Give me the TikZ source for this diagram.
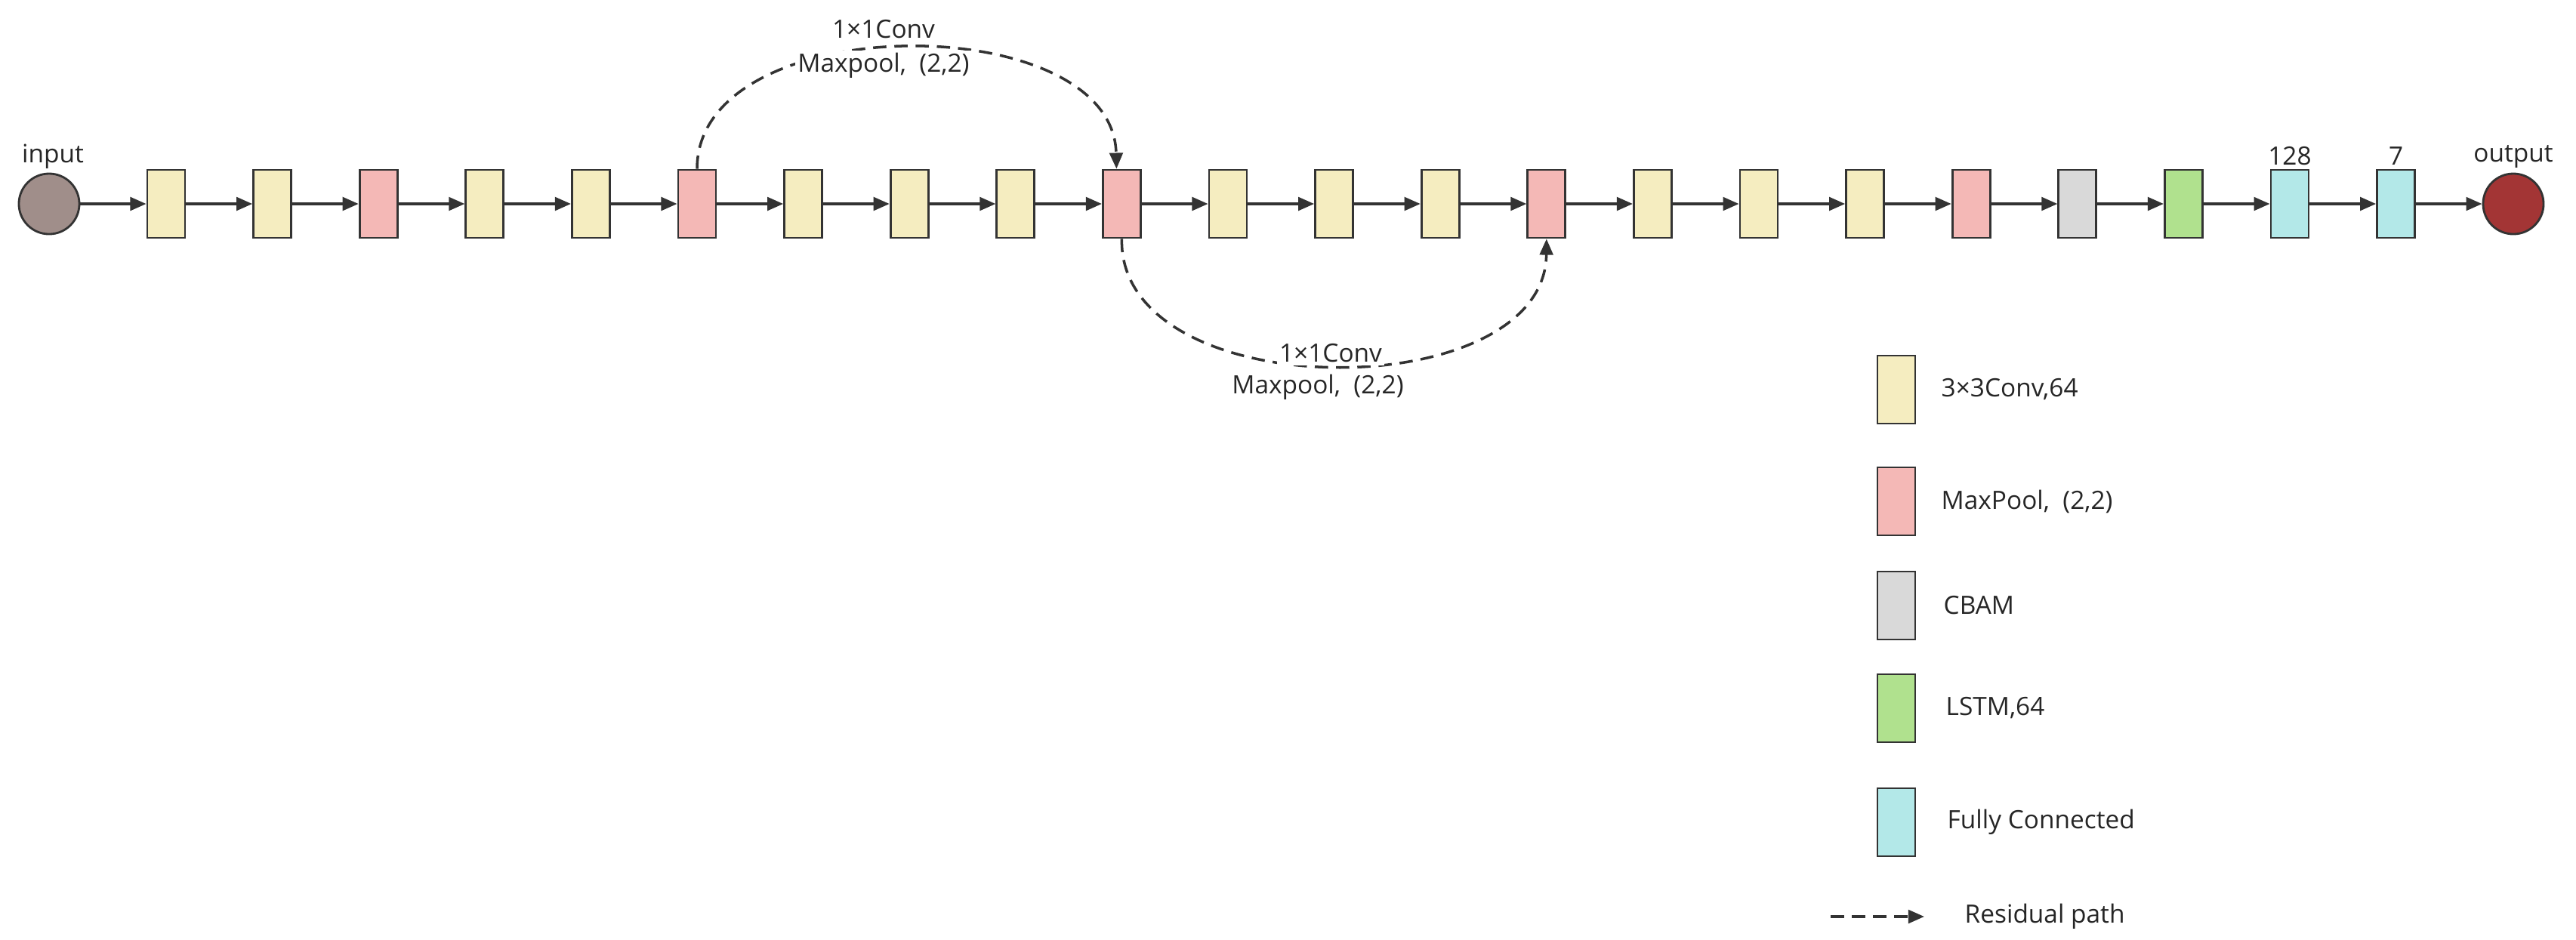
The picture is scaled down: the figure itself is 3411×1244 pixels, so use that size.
\documentclass[tikz,border=0pt]{standalone}
\usepackage{fontspec}
\setmainfont{Open Sans}
\usetikzlibrary{arrows.meta}
\definecolor{cyel}{HTML}{F5EDC0}
\definecolor{cpink}{HTML}{F4B8B6}
\definecolor{cgray}{HTML}{D9D9D9}
\definecolor{cgreen}{HTML}{B0E18E}
\definecolor{ccyan}{HTML}{B3E8E8}
\definecolor{cin}{HTML}{A08E8A}
\definecolor{cout}{HTML}{A33535}
\definecolor{cline}{HTML}{333333}
\begin{document}
\begin{tikzpicture}[x=0.01cm,y=-0.01cm,
  font=\fontsize{9.5}{11}\selectfont,
  blk/.style={draw=cline,line width=0.8pt,minimum width=0.5cm,minimum height=0.9cm,inner sep=0pt},
  Y/.style={blk,fill=cyel},P/.style={blk,fill=cpink},G/.style={blk,fill=cgray},
  L/.style={blk,fill=cgreen},C/.style={blk,fill=ccyan},
  circ/.style={circle,draw=cline,line width=0.8pt,minimum size=0.8cm,inner sep=0pt},
  arr/.style={draw=cline,line width=1pt,-{Triangle[length=6pt,width=5pt]}},
  res/.style={arr,dashed,dash pattern=on 5pt off 3pt},
  lbl/.style={inner sep=1pt,text=black!85},
  leg/.style={anchor=west,inner sep=0pt,text=black!85}]
\useasboundingbox (0,0) rectangle (3411,1244);
\node[circ,fill=cin] (in) at (65,270) {};
\node[lbl] (inl) at (70,207) {input};
\foreach \s [count=\i from 0] in {Y,Y,P,Y,Y,P,Y,Y,Y,P,Y,Y,Y,P,Y,Y,Y,P,G,L,C,C}{
  \node[\s] (b\i) at ({220+140.6*\i},270) {};
}
\node[circ,fill=cout] (out) at (3328,270) {};
\node[lbl] (outl) at (3328,207) {output};
\node[lbl] (l128) at (b20 |- 0,207) {128};
\node[lbl] (l7) at (b21 |- 0,207) {7};
\draw[arr] (in) -- (b0);
\foreach \i [evaluate=\i as \j using int(\i+1)] in {0,...,20}{
  \draw[arr] (b\i) -- (b\j);
}
\draw[arr] (b21) -- (out);
% residual paths
\coordinate (t9) at ([xshift=-0.07cm]b9.north);
\draw[res] (b5.north) .. controls (923,10) and (1474,10) .. (t9);
\node[lbl,fill=white] (r1b) at (1170,87) {Maxpool,\ \ (2,2)};
\node[lbl] (r1a) at (1170,39) {1×1Conv};
\draw[res] (b9.south) .. controls (1481,540) and (2046,540) .. (b13.south);
\node[lbl,fill=white] (r2a) at (1762,468) {1×1Conv};
\node[lbl,fill=white] (r2b) at (1745,513) {Maxpool,\ \ (2,2)};
% legend
\node[Y] (g1) at (2511,516) {};
\node[leg] (g1t) at (2570,516) {3×3Conv,64};
\node[P] (g2) at (2511,664) {};
\node[leg] (g2t) at (2570,664) {MaxPool,\ \ (2,2)};
\node[G] (g3) at (2511,802) {};
\node[leg] (g3t) at (2573,802) {CBAM};
\node[L] (g4) at (2511,938) {};
\node[leg] (g4t) at (2576,938) {LSTM,64};
\node[C] (g5) at (2511,1089) {};
\node[leg] (g5t) at (2578,1089) {Fully Connected};
\coordinate (rs) at (2424,1214);
\coordinate (re) at (2548,1214);
\draw[res] (rs) -- (re);
\node[leg] (g6t) at (2601,1214) {Residual path};
\end{tikzpicture}
\end{document}
